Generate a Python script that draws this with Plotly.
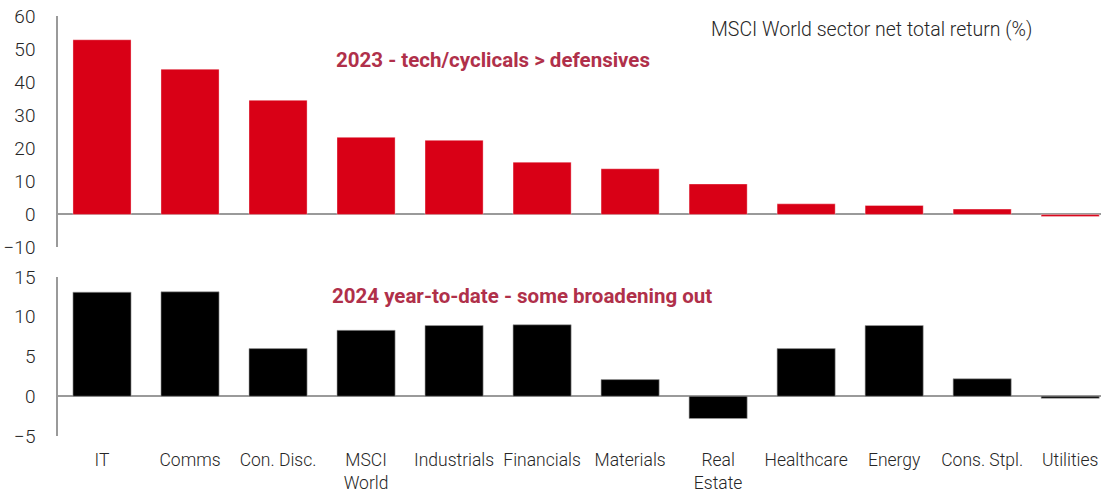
import plotly.graph_objects as go
from plotly.subplots import make_subplots

categories = ["IT", "Comms", "Con. Disc.", "MSCI<br>World", "Industrials", "Financials",
              "Materials", "Real<br>Estate", "Healthcare", "Energy", "Cons. Stpl.", "Utilities"]
ret_2023 = [52.8, 43.9, 34.5, 23.3, 22.4, 15.8, 13.8, 9.2, 3.2, 2.7, 1.6, -0.6]
ret_2024_ytd = [13.1, 13.15, 6.0, 8.3, 8.9, 9.0, 2.1, -2.8, 6.0, 8.9, 2.2, -0.25]

y1_ticks = [-10, 0, 10, 20, 30, 40, 50, 60]
y2_ticks = [-5, 0, 5, 10, 15]

FONT = "Roboto"
TXT = "#262626"
AXIS = "#9a9a9a"
ANN = "#b0304a"

fig = make_subplots(rows=2, cols=1, shared_xaxes=False, vertical_spacing=0.05)

fig.add_trace(go.Bar(x=categories, y=ret_2023, marker=dict(color="#d90016",
                     line=dict(color="rgba(255,255,255,0.35)", width=1)),
                     width=0.66, showlegend=False), row=1, col=1)
fig.add_trace(go.Bar(x=categories, y=ret_2024_ytd, marker=dict(color="#000000",
                     line=dict(color="rgba(160,160,160,0.6)", width=1)),
                     width=0.66, showlegend=False), row=2, col=1)

xr = [-0.5, 11.35]
fig.update_xaxes(range=xr, showgrid=False, showline=False, zeroline=False, automargin=False,
                 tickfont=dict(family=FONT, size=17.5, color=TXT, weight=300))
fig.update_xaxes(showticklabels=False, ticks="", row=1, col=1)
fig.update_xaxes(ticks="outside", ticklen=8, tickcolor="rgba(0,0,0,0)", row=2, col=1)

fig.update_yaxes(showgrid=False, showline=True, linecolor=AXIS, linewidth=1.5,
                 zeroline=True, zerolinecolor=AXIS, zerolinewidth=1.5, automargin=False,
                 ticks="", ticklabelstandoff=17,
                 tickfont=dict(family=FONT, size=19, color=TXT, weight=300))
fig.update_yaxes(range=[-10, 60], tickvals=y1_ticks, domain=[0.4425, 0.986], row=1, col=1)
fig.update_yaxes(range=[-5, 15], tickvals=y2_ticks, domain=[0.0, 0.373], row=2, col=1)

fig.add_annotation(text="MSCI World sector net total return (%)", xref="paper", yref="paper",
                   x=0.78, y=0.955, xanchor="center", yanchor="middle", showarrow=False,
                   font=dict(family=FONT, size=19.5, color=TXT, weight=300))
fig.add_annotation(text="<b>2023 - tech/cyclicals > defensives</b>", xref="x", yref="y",
                   x=4.44, y=46.8, xanchor="center", yanchor="middle", showarrow=False,
                   font=dict(family=FONT, size=20.5, color=ANN))
fig.add_annotation(text="<b>2024 year-to-date - some broadening out</b>", xref="x2", yref="y2",
                   x=4.77, y=12.66, xanchor="center", yanchor="middle", showarrow=False,
                   font=dict(family=FONT, size=20.5, color=ANN))

fig.update_layout(width=1101, height=493, margin=dict(l=58, r=0, t=10, b=57),
                  plot_bgcolor="white", paper_bgcolor="white", bargap=0.34)

fig.write_html("out.html", config={"displayModeBar": False},
               post_script="document.body.style.margin='0';")
